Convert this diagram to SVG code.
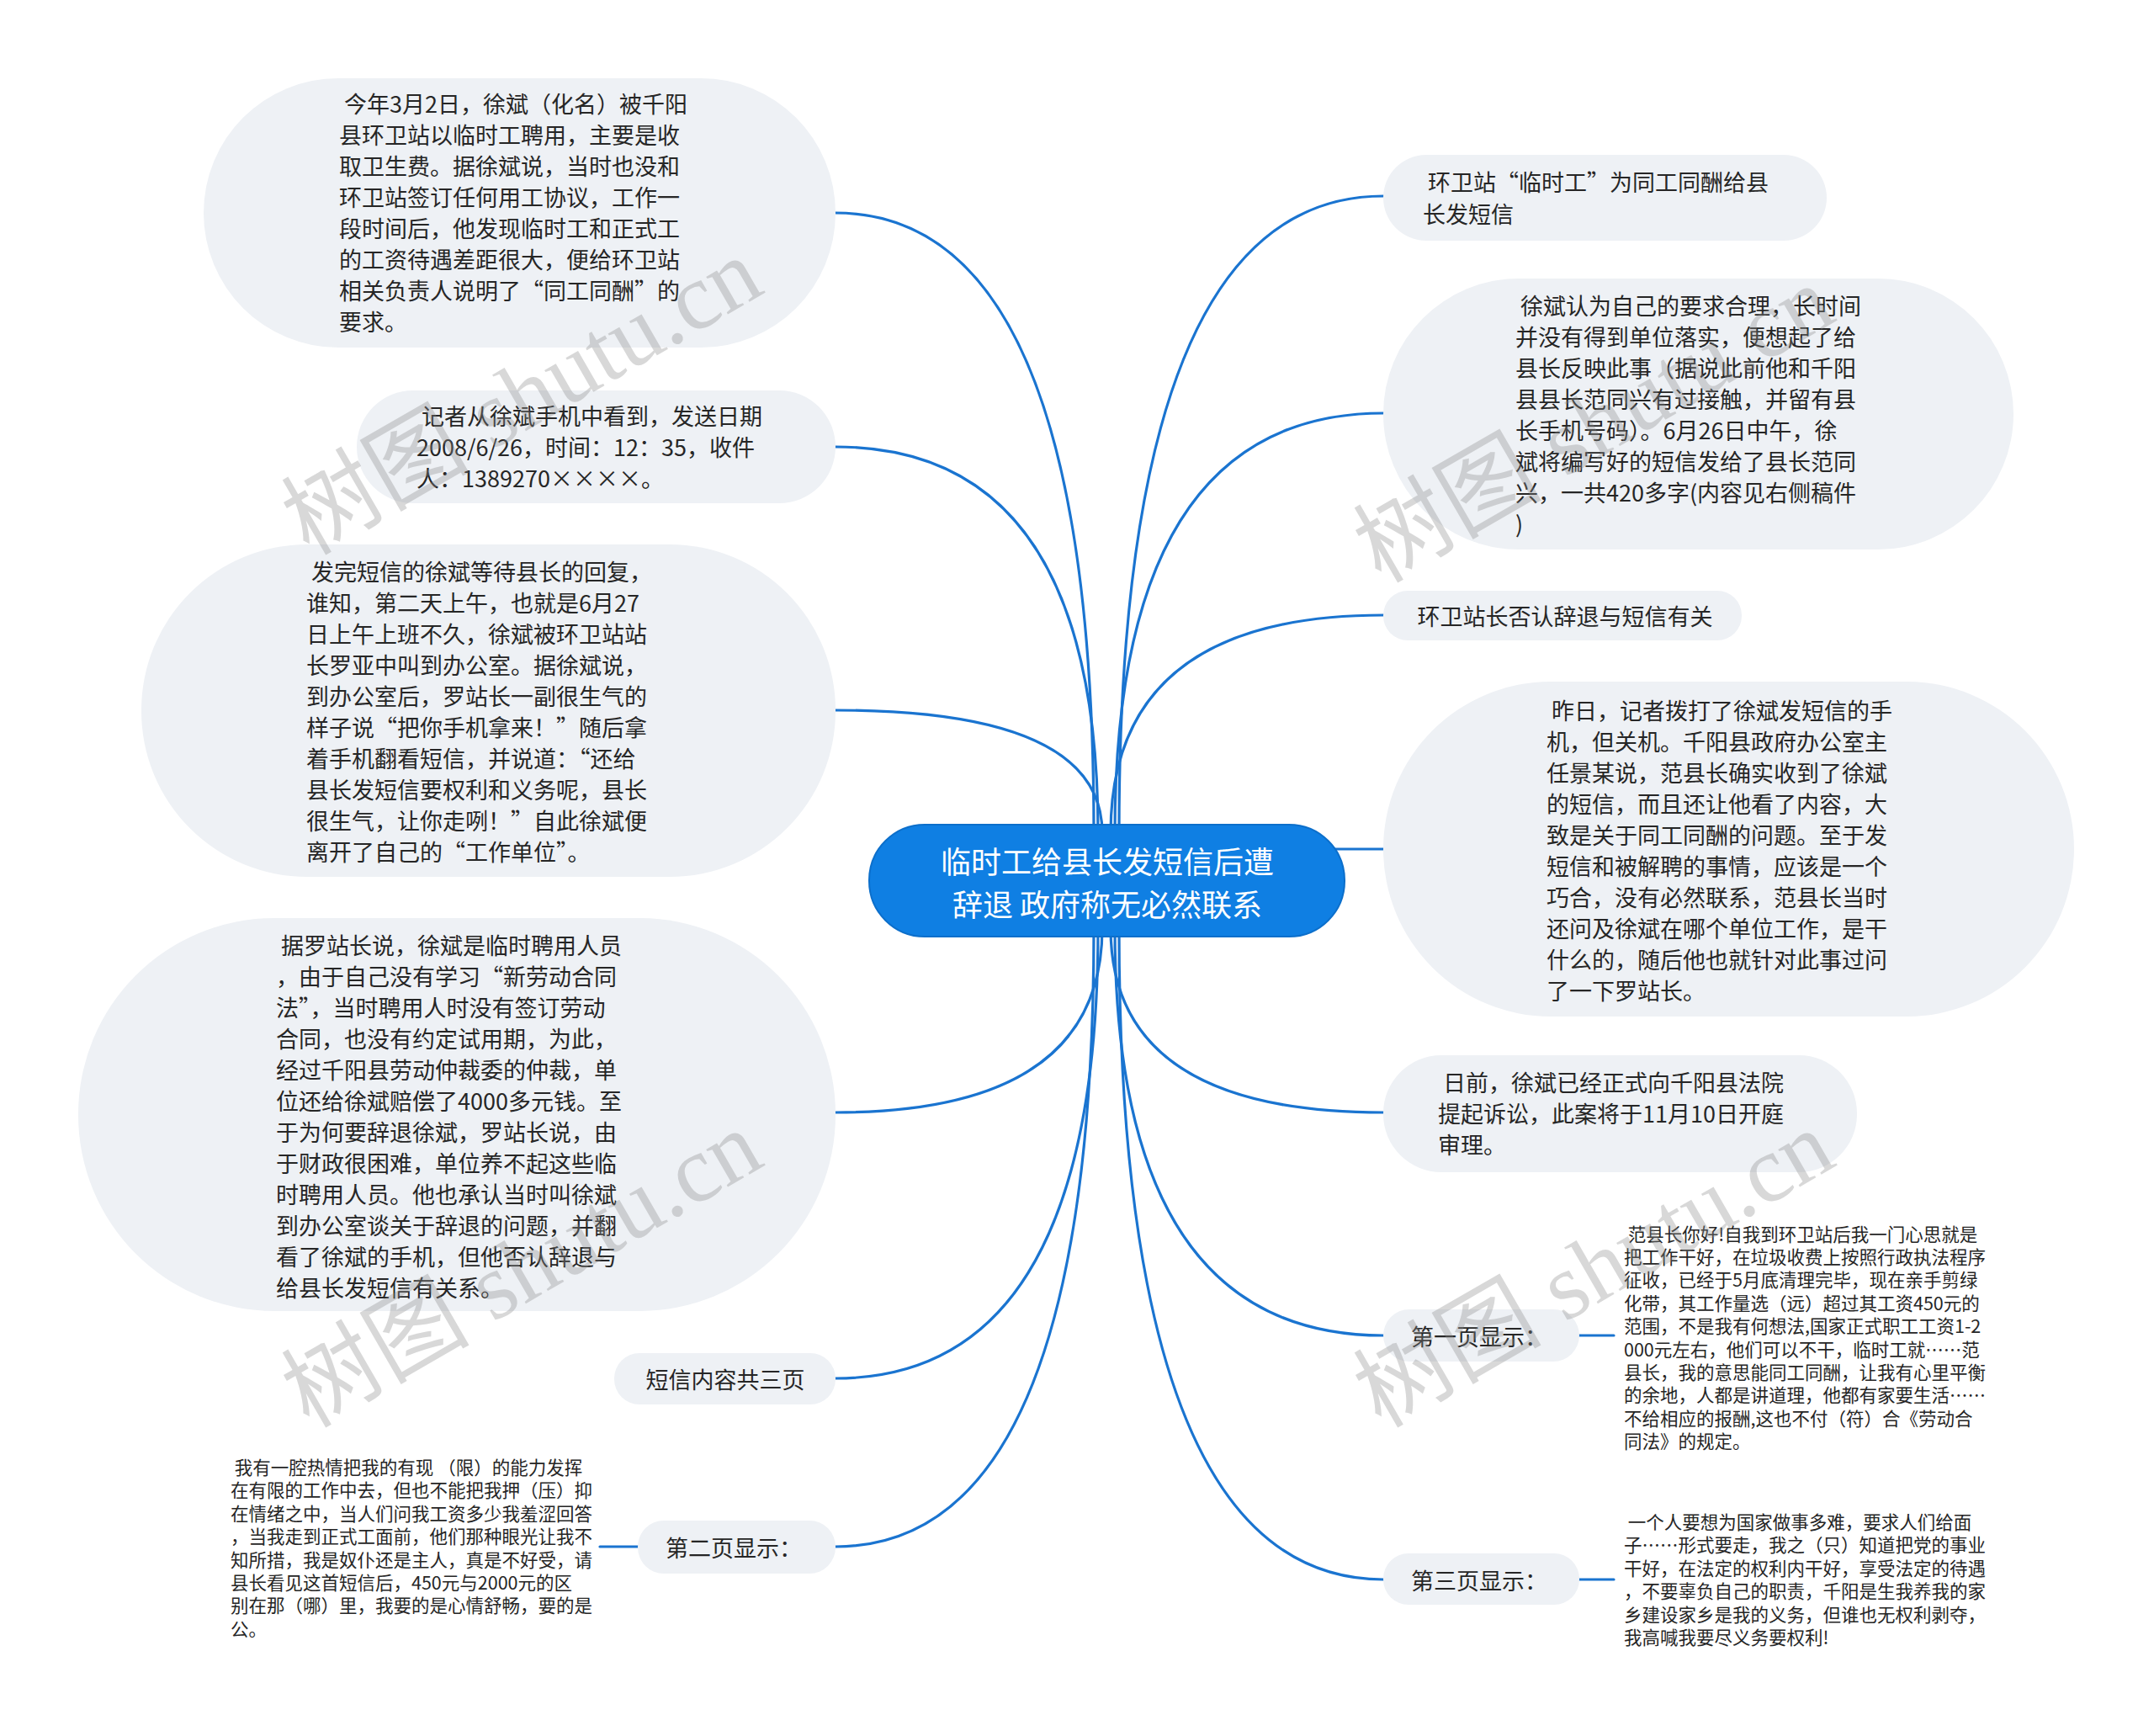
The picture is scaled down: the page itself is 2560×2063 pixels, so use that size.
<svg xmlns="http://www.w3.org/2000/svg" width="2560" height="2063" viewBox="0 0 2560 2063">
<style>
.bg{fill:#ffffff}
.node{fill:#eef1f5}
.t{font-family:"Noto Sans CJK SC","Liberation Sans",sans-serif;font-size:27px;fill:#262626;dominant-baseline:central}
.s{font-family:"Noto Sans CJK SC","Liberation Sans",sans-serif;font-size:21.5px;fill:#262626;dominant-baseline:central}
.mid{text-anchor:middle}
.c{font-family:"Noto Sans CJK SC","Liberation Sans",sans-serif;font-size:36px;fill:#ffffff;dominant-baseline:central;text-anchor:middle}
.ln{fill:none;stroke:#1a74d0;stroke-width:3.2;stroke-linecap:round}
.wm{font-family:"Liberation Serif","Noto Sans CJK SC",serif;font-size:112px;fill:#8a8a8a;opacity:0.33}
</style>
<rect class="bg" x="0" y="0" width="2560" height="2063"/>

<g id="connectors">
<path class="ln" d="M 1300 990 Q 1300 253 993 253"/>
<path class="ln" d="M 1305 990 Q 1305 531 993 531"/>
<path class="ln" d="M 1310 990 Q 1310 844 993 844"/>
<path class="ln" d="M 1330 990 Q 1330 233 1644 233"/>
<path class="ln" d="M 1325 990 Q 1325 491 1644 491"/>
<path class="ln" d="M 1320 990 Q 1320 731 1644 731"/>
<path class="ln" d="M 1585 1009 L 1644 1009"/>
<path class="ln" d="M 1310 1103 Q 1310 1322 993 1322"/>
<path class="ln" d="M 1305 1103 Q 1305 1638 993 1638"/>
<path class="ln" d="M 1300 1103 Q 1300 1838 993 1838"/>
<path class="ln" d="M 1320 1103 Q 1320 1322 1644 1322"/>
<path class="ln" d="M 1325 1103 Q 1325 1587 1644 1587"/>
<path class="ln" d="M 1330 1103 Q 1330 1877 1644 1877"/>
<path class="ln" d="M 758 1838 L 713 1838"/>
<path class="ln" d="M 1877 1587 L 1918 1587"/>
<path class="ln" d="M 1877 1877 L 1918 1877"/>
</g>

<g id="center">
<rect x="1033" y="980" width="565" height="133" rx="66" ry="66" fill="#0f7fe3" stroke="#0c6fcb" stroke-width="2"/>
<text class="c"><tspan x="1316" y="1022">临时工给县长发短信后遭</tspan><tspan x="1316" y="1073">辞退 政府称无必然联系</tspan></text>
</g>

<g id="n-left-1">
<rect class="node" x="242" y="93" width="751" height="320" rx="160" ry="160"/>
<text class="t" xml:space="preserve"><tspan x="403" y="122"> 今年3月2日，徐斌（化名）被千阳</tspan><tspan x="403" y="159">县环卫站以临时工聘用，主要是收</tspan><tspan x="403" y="196">取卫生费。据徐斌说，当时也没和</tspan><tspan x="403" y="233">环卫站签订任何用工协议，工作一</tspan><tspan x="403" y="270">段时间后，他发现临时工和正式工</tspan><tspan x="403" y="307">的工资待遇差距很大，便给环卫站</tspan><tspan x="403" y="344">相关负责人说明了“同工同酬”的</tspan><tspan x="403" y="381">要求。</tspan></text>
</g>

<g id="n-left-2">
<rect class="node" x="424" y="464" width="569" height="134" rx="67" ry="67"/>
<text class="t" xml:space="preserve"><tspan x="495" y="493"> 记者从徐斌手机中看到，发送日期</tspan><tspan x="495" y="530">2008/6/26，时间：12：35，收件</tspan><tspan x="495" y="567">人：1389270××××。</tspan></text>
</g>

<g id="n-left-3">
<rect class="node" x="168" y="647" width="825" height="395" rx="197" ry="197"/>
<text class="t" xml:space="preserve"><tspan x="364" y="678"> 发完短信的徐斌等待县长的回复，</tspan><tspan x="364" y="715">谁知，第二天上午，也就是6月27</tspan><tspan x="364" y="752">日上午上班不久，徐斌被环卫站站</tspan><tspan x="364" y="789">长罗亚中叫到办公室。据徐斌说，</tspan><tspan x="364" y="826">到办公室后，罗站长一副很生气的</tspan><tspan x="364" y="863">样子说“把你手机拿来！”随后拿</tspan><tspan x="364" y="900">着手机翻看短信，并说道：“还给</tspan><tspan x="364" y="937">县长发短信要权利和义务呢，县长</tspan><tspan x="364" y="974">很生气，让你走咧！”自此徐斌便</tspan><tspan x="364" y="1011">离开了自己的“工作单位”。</tspan></text>
</g>

<g id="n-left-4">
<rect class="node" x="93" y="1091" width="900" height="467" rx="233" ry="233"/>
<text class="t" xml:space="preserve"><tspan x="328" y="1122"> 据罗站长说，徐斌是临时聘用人员</tspan><tspan x="328" y="1159">，由于自己没有学习“新劳动合同</tspan><tspan x="328" y="1196">法”，当时聘用人时没有签订劳动</tspan><tspan x="328" y="1233">合同，也没有约定试用期，为此，</tspan><tspan x="328" y="1270">经过千阳县劳动仲裁委的仲裁，单</tspan><tspan x="328" y="1307">位还给徐斌赔偿了4000多元钱。至</tspan><tspan x="328" y="1344">于为何要辞退徐斌，罗站长说，由</tspan><tspan x="328" y="1381">于财政很困难，单位养不起这些临</tspan><tspan x="328" y="1418">时聘用人员。他也承认当时叫徐斌</tspan><tspan x="328" y="1455">到办公室谈关于辞退的问题，并翻</tspan><tspan x="328" y="1492">看了徐斌的手机，但他否认辞退与</tspan><tspan x="328" y="1529">给县长发短信有关系。</tspan></text>
</g>

<g id="n-left-5">
<rect class="node" x="730" y="1608" width="263" height="61" rx="30" ry="30"/>
<text class="t mid" x="862" y="1638">短信内容共三页</text>
</g>

<g id="n-left-6">
<rect class="node" x="758" y="1807" width="235" height="63" rx="31" ry="31"/>
<text class="t mid" x="872" y="1838">第二页显示：</text>
</g>

<g id="n-left-6-text">
<text class="s" xml:space="preserve"><tspan x="274" y="1742"> 我有一腔热情把我的有现 （限）的能力发挥</tspan><tspan x="274" y="1769.4">在有限的工作中去，但也不能把我押（压）抑</tspan><tspan x="274" y="1796.8">在情绪之中，当人们问我工资多少我羞涩回答</tspan><tspan x="274" y="1824.2">，当我走到正式工面前，他们那种眼光让我不</tspan><tspan x="274" y="1851.6">知所措，我是奴仆还是主人，真是不好受，请</tspan><tspan x="274" y="1879">县长看见这首短信后，450元与2000元的区</tspan><tspan x="274" y="1906.4">别在那（哪）里，我要的是心情舒畅，要的是</tspan><tspan x="274" y="1933.8">公。</tspan></text>
</g>

<g id="n-right-1">
<rect class="node" x="1644" y="184" width="527" height="102" rx="51" ry="51"/>
<text class="t" xml:space="preserve"><tspan x="1691" y="215"> 环卫站“临时工”为同工同酬给县</tspan><tspan x="1691" y="253">长发短信</tspan></text>
</g>

<g id="n-right-2">
<rect class="node" x="1644" y="331" width="749" height="322" rx="161" ry="161"/>
<text class="t" xml:space="preserve"><tspan x="1801" y="362"> 徐斌认为自己的要求合理，长时间</tspan><tspan x="1801" y="399">并没有得到单位落实，便想起了给</tspan><tspan x="1801" y="436">县长反映此事（据说此前他和千阳</tspan><tspan x="1801" y="473">县县长范同兴有过接触，并留有县</tspan><tspan x="1801" y="510">长手机号码）。6月26日中午，徐</tspan><tspan x="1801" y="547">斌将编写好的短信发给了县长范同</tspan><tspan x="1801" y="584">兴，一共420多字(内容见右侧稿件</tspan><tspan x="1801" y="621">)</tspan></text>
</g>

<g id="n-right-3">
<rect class="node" x="1644" y="702" width="426" height="59" rx="29" ry="29"/>
<text class="t mid" x="1860" y="731">环卫站长否认辞退与短信有关</text>
</g>

<g id="n-right-4">
<rect class="node" x="1644" y="810" width="821" height="398" rx="199" ry="199"/>
<text class="t" xml:space="preserve"><tspan x="1838" y="843"> 昨日，记者拨打了徐斌发短信的手</tspan><tspan x="1838" y="880">机，但关机。千阳县政府办公室主</tspan><tspan x="1838" y="917">任景某说，范县长确实收到了徐斌</tspan><tspan x="1838" y="954">的短信，而且还让他看了内容，大</tspan><tspan x="1838" y="991">致是关于同工同酬的问题。至于发</tspan><tspan x="1838" y="1028">短信和被解聘的事情，应该是一个</tspan><tspan x="1838" y="1065">巧合，没有必然联系，范县长当时</tspan><tspan x="1838" y="1102">还问及徐斌在哪个单位工作，是干</tspan><tspan x="1838" y="1139">什么的，随后他也就针对此事过问</tspan><tspan x="1838" y="1176">了一下罗站长。</tspan></text>
</g>

<g id="n-right-5">
<rect class="node" x="1644" y="1254" width="563" height="139" rx="69" ry="69"/>
<text class="t" xml:space="preserve"><tspan x="1709" y="1285"> 日前，徐斌已经正式向千阳县法院</tspan><tspan x="1709" y="1322">提起诉讼，此案将于11月10日开庭</tspan><tspan x="1709" y="1359">审理。</tspan></text>
</g>

<g id="n-right-6">
<rect class="node" x="1644" y="1556" width="233" height="62" rx="31" ry="31"/>
<text class="t mid" x="1758" y="1587">第一页显示：</text>
</g>

<g id="n-right-6-text">
<text class="s" xml:space="preserve"><tspan x="1930" y="1464.5"> 范县长你好!自我到环卫站后我一门心思就是</tspan><tspan x="1930" y="1491.9">把工作干好，在垃圾收费上按照行政执法程序</tspan><tspan x="1930" y="1519.3">征收，已经于5月底清理完毕，现在亲手剪绿</tspan><tspan x="1930" y="1546.7">化带，其工作量选（远）超过其工资450元的</tspan><tspan x="1930" y="1574.1">范围，不是我有何想法,国家正式职工工资1-2</tspan><tspan x="1930" y="1601.5">000元左右，他们可以不干，临时工就……范</tspan><tspan x="1930" y="1628.9">县长，我的意思能同工同酬，让我有心里平衡</tspan><tspan x="1930" y="1656.3">的余地，人都是讲道理，他都有家要生活……</tspan><tspan x="1930" y="1683.7">不给相应的报酬,这也不付（符）合《劳动合</tspan><tspan x="1930" y="1711.1">同法》的规定。</tspan></text>
</g>

<g id="n-right-7">
<rect class="node" x="1644" y="1846" width="233" height="61" rx="30" ry="30"/>
<text class="t mid" x="1758" y="1877">第三页显示：</text>
</g>

<g id="n-right-7-text">
<text class="s" xml:space="preserve"><tspan x="1930" y="1807"> 一个人要想为国家做事多难，要求人们给面</tspan><tspan x="1930" y="1834.4">子……形式要走，我之（只）知道把党的事业</tspan><tspan x="1930" y="1861.8">干好，在法定的权利内干好，享受法定的待遇</tspan><tspan x="1930" y="1889.2">，不要辜负自己的职责，千阳是生我养我的家</tspan><tspan x="1930" y="1916.6">乡建设家乡是我的义务，但谁也无权利剥夺，</tspan><tspan x="1930" y="1944">我高喊我要尽义务要权利!</tspan></text>
</g>

<g id="watermarks">
<text class="wm" transform="translate(367 661) rotate(-30)">树图 shutu.cn</text>
<text class="wm" transform="translate(367 1698) rotate(-30)">树图 shutu.cn</text>
<text class="wm" transform="translate(1641 694) rotate(-30)">树图 shutu.cn</text>
<text class="wm" transform="translate(1641 1698) rotate(-30)">树图 shutu.cn</text>
</g>
</svg>
